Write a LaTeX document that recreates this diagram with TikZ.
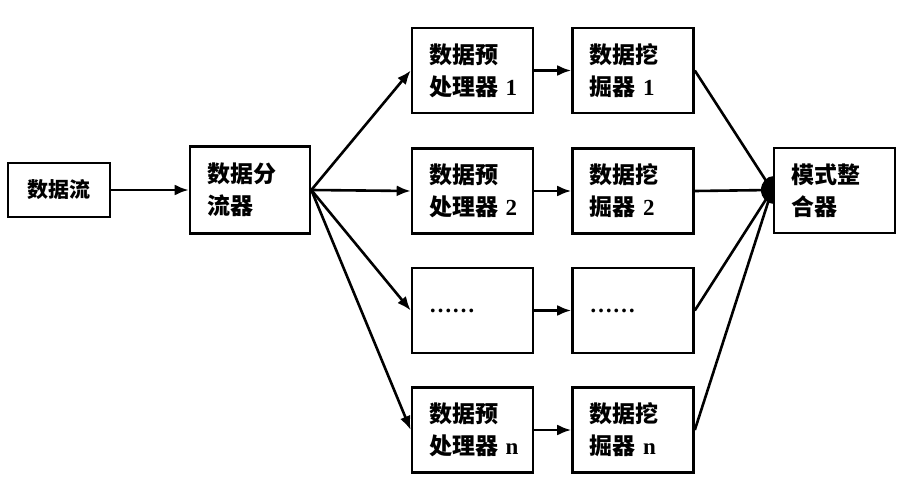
\documentclass[tikz,border=0pt]{standalone}
\usepackage{fontspec}
\setmainfont{Liberation Serif}
\newfontfamily\cjk{Noto Sans CJK SC}
\usetikzlibrary{arrows.meta}
\tikzset{
	box/.style={draw, line width=2.6pt, minimum width=121pt, minimum height=85pt, text width=87pt, align=left, inner sep=0pt, font=\bfseries\fontsize{23}{32}\selectfont},
	flow/.style={line width=2.6pt, -{Latex[length=14pt,width=11pt]}},
	joinline/.style={line width=2.6pt}
}

\begin{document}
\begin{tikzpicture}[x=1pt, y=-1pt]
		%%%%% START %%%%%
		\useasboundingbox (0, 0) rectangle (909, 500);
		
		\node[box, minimum width=102pt, minimum height=54pt, text width=70pt, align=center, font=\bfseries\fontsize{21}{28}\selectfont] (src) at (59, 190) {\cjk 数据流};
		\node[box, minimum width=120pt, minimum height=87pt, text width=86pt] (split) at (250, 190) {\cjk 数据分\\流器};
		
		\node[box] (pre1) at (472.5, 70.5) {\cjk 数据预\\处理器~{\rmfamily 1}};
		\node[box] (pre2) at (472.5, 191) {\cjk 数据预\\处理器~{\rmfamily 2}};
		\node[box] (pre3) at (472.5, 310.5) {……};
		\node[box] (pre4) at (472.5, 430) {\cjk 数据预\\处理器~{\rmfamily n}};
		
		\node[box] (mine1) at (633, 70.5) {\cjk 数据挖\\掘器~{\rmfamily 1}};
		\node[box] (mine2) at (633, 191) {\cjk 数据挖\\掘器~{\rmfamily 2}};
		\node[box] (mine3) at (633, 310.5) {……};
		\node[box] (mine4) at (633, 430) {\cjk 数据挖\\掘器~{\rmfamily n}};
		
		\node[box] (merge) at (834.5, 190.5) {\cjk 模式整\\合器};
		\coordinate (hub) at (772, 190);
		
		\draw[flow] (src) -- (split);
		\foreach \i in {1,...,4}{
			\draw[flow] (split.east) -- (pre\i.west);
			\draw[flow] (pre\i) -- (mine\i);
			\draw[joinline] (mine\i.east) -- (hub);
		}
		
		\fill (774, 204) arc[start angle=270, end angle=90, x radius=13pt, y radius=14pt] -- cycle;
		
		%%%%% END %%%%%
\end{tikzpicture}
\end{document}
